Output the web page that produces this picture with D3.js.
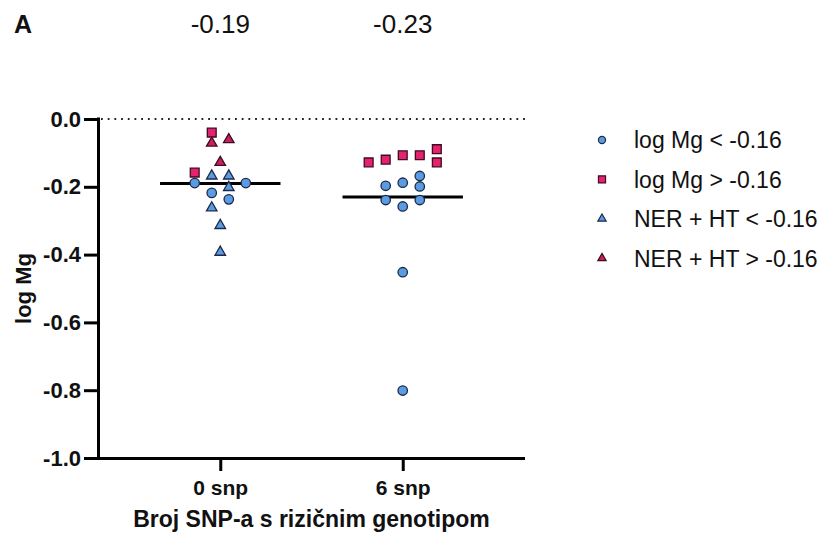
<!DOCTYPE html>
<html>
<head>
<meta charset="utf-8">
<script src="https://cdn.jsdelivr.net/npm/d3@7"></script>
<style>
  html, body { margin: 0; padding: 0; background: #fff; }
  svg { display: block; font-family: "Liberation Sans", Arial, Helvetica, sans-serif; }
</style>
</head>
<body>
<svg id="chart" width="826" height="535"></svg>
<script>
// Groups on the x axis
const groups = ["0 snp", "6 snp"];
// Group medians, printed above the plot and drawn as horizontal bars
const medians = [-0.19, -0.23];
const medianLabels = ["-0.19", "-0.23"];
// Y axis ticks
const yTicks = [0.0, -0.2, -0.4, -0.6, -0.8, -1.0];

// Series: [group, column slot within the scatter, log Mg value]
const logMgBelow = [
  ["0 snp", -3, -0.189], ["0 snp", 3, -0.189], ["0 snp", -1, -0.218], ["0 snp", 1, -0.237],
  ["6 snp", -2, -0.197], ["6 snp", 0, -0.188], ["6 snp", 2, -0.168], ["6 snp", 2, -0.199],
  ["6 snp", -2, -0.239], ["6 snp", 2, -0.239], ["6 snp", 0, -0.258], ["6 snp", 0, -0.452],
  ["6 snp", 0, -0.801]
];
const logMgAbove = [
  ["0 snp", -1, -0.040], ["0 snp", -3, -0.158],
  ["6 snp", -4, -0.128], ["6 snp", -2, -0.120], ["6 snp", 0, -0.107], ["6 snp", 2, -0.107],
  ["6 snp", 4, -0.089], ["6 snp", 4, -0.128]
];
const nerHtBelow = [
  ["0 snp", -1, -0.168], ["0 snp", 1, -0.168], ["0 snp", 1, -0.202],
  ["0 snp", -1, -0.262], ["0 snp", 0, -0.314], ["0 snp", 0, -0.393]
];
const nerHtAbove = [
  ["0 snp", -1, -0.071], ["0 snp", 1, -0.061], ["0 snp", 0, -0.128]
];

const series = [
  { name: "log Mg < -0.16", data: logMgBelow, shape: d3.symbolCircle, size: 70, legendSize: 40, fill: "#5b9be2", stroke: "#1c2a48" },
  { name: "log Mg > -0.16", data: logMgAbove, shape: d3.symbolSquare, size: 78, legendSize: 50, fill: "#e4226f", stroke: "#3e0b20" },
  { name: "NER + HT < -0.16", data: nerHtBelow, shape: d3.symbolTriangle, size: 48, legendSize: 30, fill: "#5b9be2", stroke: "#1c2a48" },
  { name: "NER + HT > -0.16", data: nerHtAbove, shape: d3.symbolTriangle, size: 48, legendSize: 30, fill: "#c81f5e", stroke: "#3e0b20" }
];

const svg = d3.select("#chart");
const plotLeft = 98, plotRight = 525, plotTop = 119, plotBottom = 458;

const x = d3.scalePoint().domain(groups).range([plotLeft, plotRight]).padding(0.67);
const y = d3.scaleLinear().domain([-1, 0]).range([plotBottom, plotTop]);
const slotW = x.step() * 0.0467;
const halfBar = x.step() * 0.33;

// Dotted reference line at zero
svg.append("line")
  .attr("x1", plotLeft + 3).attr("x2", plotRight)
  .attr("y1", y(0)).attr("y2", y(0))
  .attr("stroke", "#222").attr("stroke-width", 1.8)
  .attr("stroke-dasharray", "1.8 4.9");

// Y axis (plain hyphen for negative labels)
const yAxis = svg.append("g")
  .attr("transform", `translate(${plotLeft},0)`)
  .call(d3.axisLeft(y).tickValues(yTicks).tickFormat(d => d.toFixed(1)).tickSize(14).tickPadding(3));
yAxis.select(".domain").attr("stroke", "#000").attr("stroke-width", 3).attr("d", `M0.5,${plotTop - 1.5}V${plotBottom + 1.5}`);
yAxis.selectAll(".tick line").attr("stroke", "#000").attr("stroke-width", 3);
yAxis.selectAll(".tick text").attr("font-size", 22).attr("font-weight", "bold").attr("fill", "#111")
  .attr("font-family", "'Liberation Sans', Arial, sans-serif");

// X axis
const xAxis = svg.append("g")
  .attr("transform", `translate(0,${plotBottom})`)
  .call(d3.axisBottom(x).tickSize(13).tickPadding(9));
xAxis.select(".domain").attr("stroke", "#000").attr("stroke-width", 3).attr("d", `M${plotLeft - 1},0.5H${plotRight}`);
xAxis.selectAll(".tick line").attr("stroke", "#000").attr("stroke-width", 3);
xAxis.selectAll(".tick text").attr("font-size", 21).attr("font-weight", "bold").attr("fill", "#111")
  .attr("font-family", "'Liberation Sans', Arial, sans-serif");

// Axis titles
svg.append("text")
  .attr("x", (plotLeft + plotRight) / 2).attr("y", 527)
  .attr("text-anchor", "middle").attr("font-size", 23).attr("font-weight", "bold").attr("fill", "#111")
  .text("Broj SNP-a s rizičnim genotipom");
svg.append("text")
  .attr("transform", `translate(31,${(plotTop + plotBottom) / 2}) rotate(-90)`)
  .attr("text-anchor", "middle").attr("font-size", 22).attr("font-weight", "bold").attr("fill", "#111")
  .text("log Mg");

// Panel letter and median labels
svg.append("text").attr("x", 14).attr("y", 33)
  .attr("font-size", 25).attr("font-weight", "bold").attr("fill", "#111").text("A");
svg.selectAll(".median-label").data(groups).join("text")
  .attr("class", "median-label")
  .attr("x", d => x(d)).attr("y", 33)
  .attr("text-anchor", "middle").attr("font-size", 26).attr("fill", "#111")
  .text((d, i) => medianLabels[i]);

// Median bars
svg.selectAll(".median-bar").data(groups).join("line")
  .attr("class", "median-bar")
  .attr("x1", d => x(d) - halfBar).attr("x2", d => x(d) + halfBar)
  .attr("y1", (d, i) => y(medians[i])).attr("y2", (d, i) => y(medians[i]))
  .attr("stroke", "#000").attr("stroke-width", 3);

// Points
series.forEach(s => {
  const sym = d3.symbol().type(s.shape).size(s.size);
  svg.append("g").selectAll("path").data(s.data).join("path")
    .attr("d", sym)
    .attr("transform", d => `translate(${x(d[0]) + d[1] * slotW},${y(d[2])})`)
    .attr("fill", s.fill).attr("stroke", s.stroke).attr("stroke-width", 1.3);
});

// Legend
const legend = svg.append("g");
series.forEach((s, i) => {
  const cy = 140 + i * 39.4;
  legend.append("path")
    .attr("d", d3.symbol().type(s.shape).size(s.legendSize))
    .attr("transform", `translate(602,${cy})`)
    .attr("fill", s.fill).attr("stroke", s.stroke).attr("stroke-width", 1.2);
  legend.append("text")
    .attr("x", 634).attr("y", cy + 8.3)
    .attr("font-size", 23).attr("fill", "#111")
    .text(s.name);
});
</script>
</body>
</html>
